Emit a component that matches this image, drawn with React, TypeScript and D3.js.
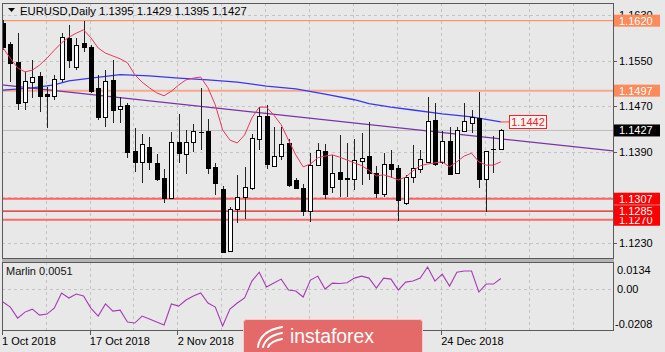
import React from 'react';
import { line, scaleLinear } from 'd3';

// daily candles, 1 Oct 2018 onwards
const opens = [1.1616, 1.1579, 1.1547, 1.1477, 1.1512, 1.1523, 1.1491, 1.1488, 1.1517, 1.159, 1.1539, 1.1581, 1.1574, 1.1502, 1.1451, 1.1516, 1.1465, 1.1472, 1.1391, 1.1372, 1.1398, 1.137, 1.1343, 1.1308, 1.1407, 1.1386, 1.1407, 1.1425, 1.1426, 1.1363, 1.1324, 1.1215, 1.1289, 1.131, 1.1326, 1.1412, 1.1452, 1.1365, 1.1382, 1.1405, 1.134, 1.1326, 1.1285, 1.1366, 1.1391, 1.1328, 1.1354, 1.1343, 1.1342, 1.1373, 1.1382, 1.1352, 1.1315, 1.1368, 1.1361, 1.1299, 1.1345, 1.1359, 1.1372, 1.1445, 1.1372, 1.1408, 1.1352, 1.1426, 1.144, 1.1449, 1.1342, 1.1395, 1.1395];
const highs = [1.1621, 1.1582, 1.1598, 1.153, 1.1551, 1.153, 1.1503, 1.1525, 1.1598, 1.1612, 1.159, 1.1619, 1.1577, 1.1525, 1.1533, 1.1551, 1.1486, 1.1475, 1.1431, 1.1421, 1.1416, 1.1386, 1.1359, 1.1424, 1.1456, 1.1428, 1.1438, 1.1502, 1.1447, 1.137, 1.1329, 1.1292, 1.1349, 1.1363, 1.1421, 1.1468, 1.1472, 1.1433, 1.1433, 1.1412, 1.1343, 1.1333, 1.1387, 1.1405, 1.1403, 1.1384, 1.1419, 1.1405, 1.1412, 1.1423, 1.1442, 1.1365, 1.1387, 1.1393, 1.1366, 1.1349, 1.1401, 1.1393, 1.1486, 1.1475, 1.1426, 1.1433, 1.1433, 1.1475, 1.1463, 1.1495, 1.1391, 1.1417, 1.1429];
const lows = [1.1568, 1.1512, 1.1463, 1.1463, 1.1484, 1.1459, 1.1431, 1.1481, 1.1512, 1.1537, 1.1533, 1.1565, 1.1493, 1.1445, 1.1433, 1.144, 1.144, 1.1379, 1.1354, 1.1335, 1.1357, 1.1338, 1.1299, 1.1306, 1.137, 1.135, 1.1389, 1.1393, 1.135, 1.1313, 1.1212, 1.1213, 1.1264, 1.1271, 1.1322, 1.1393, 1.1359, 1.1363, 1.1375, 1.1328, 1.1324, 1.1277, 1.1266, 1.1364, 1.1306, 1.1317, 1.131, 1.131, 1.1322, 1.1331, 1.134, 1.1308, 1.131, 1.1343, 1.1268, 1.1296, 1.1335, 1.1352, 1.137, 1.1365, 1.1368, 1.1349, 1.135, 1.1424, 1.1423, 1.1326, 1.1284, 1.1352, 1.1395];
const closes = [1.1574, 1.1546, 1.1475, 1.1514, 1.1521, 1.1488, 1.1488, 1.1517, 1.1591, 1.1551, 1.1577, 1.1574, 1.1496, 1.1451, 1.1514, 1.1463, 1.147, 1.1389, 1.1372, 1.1403, 1.1372, 1.1342, 1.1308, 1.1407, 1.1387, 1.1407, 1.1426, 1.1424, 1.1361, 1.1335, 1.1213, 1.1289, 1.131, 1.1328, 1.1414, 1.1452, 1.1368, 1.1382, 1.1403, 1.1331, 1.1326, 1.1285, 1.1366, 1.1393, 1.1315, 1.1352, 1.1342, 1.1342, 1.1375, 1.1379, 1.1352, 1.1317, 1.1368, 1.1359, 1.1305, 1.1345, 1.1361, 1.1377, 1.1444, 1.1368, 1.1408, 1.135, 1.1428, 1.1444, 1.1451, 1.1342, 1.1391, 1.1394, 1.1427];

// fast moving average (red)
const fastMa = [1.1572, 1.1554, 1.1537, 1.153, 1.1533, 1.1542, 1.1554, 1.1568, 1.1581, 1.1591, 1.1598, 1.1604, 1.159, 1.1572, 1.1563, 1.1558, 1.1553, 1.1546, 1.1525, 1.1512, 1.1502, 1.1493, 1.1488, 1.1496, 1.1507, 1.1516, 1.1519, 1.1521, 1.1502, 1.1472, 1.1428, 1.141, 1.1405, 1.1419, 1.1449, 1.1468, 1.1468, 1.1454, 1.1437, 1.141, 1.1384, 1.1363, 1.1368, 1.1379, 1.1382, 1.1384, 1.138, 1.1375, 1.137, 1.1365, 1.1357, 1.1347, 1.1349, 1.1345, 1.134, 1.1345, 1.1356, 1.1365, 1.1368, 1.137, 1.1372, 1.1363, 1.1372, 1.1382, 1.1387, 1.1372, 1.1366, 1.1366, 1.1372];

// slow moving average (blue), read at these bars
const slowIdx = [0, 4, 7, 9, 12, 16, 20, 24, 28, 32, 36, 40, 44, 48, 50, 53, 56, 60, 64, 68];
const slowMa = [1.1498, 1.1502, 1.1507, 1.1514, 1.1519, 1.1525, 1.1523, 1.1519, 1.1516, 1.1512, 1.1505, 1.15, 1.1491, 1.1481, 1.1474, 1.1468, 1.1463, 1.1456, 1.1451, 1.1442];

// trend line (two anchors: bar index, price)
const trendIdx = [0, 83.3];
const trendPrice = [1.1507, 1.1391];

// horizontal levels
const levels = [1.162, 1.1497, 1.1307, 1.127, 1.1285];
const levelColors = ['#ff7f50', '#f7a98e', '#ff6262', '#ff6a6a', '#e61c1c'];
const levelWidths = [1, 2, 2, 2, 1.2];
const levelBoxes = ['#ff8a5c', '#ff8a5c', '#ff0000', '#ff0000', '#ff0000'];

const marlin = [-0.0067, -0.0093, -0.0148, -0.0118, -0.0103, -0.0133, -0.0128, -0.0098, -0.0022, -0.0047, -0.0027, -0.0037, -0.0098, -0.0138, -0.0077, -0.0113, -0.0108, -0.0168, -0.0173, -0.0138, -0.0153, -0.0168, -0.0183, -0.0077, -0.0088, -0.0057, -0.0037, -0.0022, -0.0072, -0.0093, -0.0188, -0.0103, -0.0072, -0.0047, 0.0038, 0.0083, 0.0008, 0.0028, 0.0048, -0.0007, -0.0012, -0.0042, 0.0043, 0.0063, -0.0002, 0.0028, 0.0026, 0.003, 0.0053, 0.0063, 0.0053, 0.0003, 0.0053, 0.0048, -0.0007, 0.0033, 0.0038, 0.0053, 0.0109, 0.0038, 0.0073, 0.0013, 0.0083, 0.0089, 0.0089, -0.0017, 0.0023, 0.0023, 0.0051];

const priceTicks = [1.163, 1.155, 1.147, 1.139, 1.131, 1.123];
// date labels that are not hidden by the watermark
const dateTickIdx = [0, 12, 24, 60];
const dateTickLabels = ['1 Oct 2018', '17 Oct 2018', '2 Nov 2018', '24 Dec 2018'];

const FONT = '"Liberation Sans", Arial, sans-serif';
const BG = '#e8e8e8';
const GRID = '#c4c4c4';
const L = 2, R = 613, T = 3, B = 258, MT = 262, MB = 330;

function App() {
  const x = scaleLinear().domain([0, 68]).range([3, 500.8]);
  const y = scaleLinear().domain([1.123, 1.147]).range([242.5, 106]);
  const ym = scaleLinear().domain([-0.0208, 0.0134]).range([MB, MT]);

  const gridX: number[] = [];
  for (let i = 0; x(i) - 1.3 < R; i += 6) gridX.push(x(i) - 1.3);

  const fastPath = line<number>().x((d, i) => x(i)).y(d => y(d))(fastMa);
  const slowPath = line<number>().x((d, i) => x(slowIdx[i])).y(d => y(d))(slowMa);
  const marlinPath = line<number>().x((d, i) => x(i)).y(d => ym(d))(marlin);

  const last = closes[closes.length - 1];
  const slowEnd = slowMa[slowMa.length - 1];
  const f4 = (v: number) => v.toFixed(4);
  const slope = (y(trendPrice[1]) - y(trendPrice[0])) / (x(trendIdx[1]) - x(trendIdx[0]));

  return (
    <div style={{ position: 'fixed', left: 0, top: 0 }}>
      <svg width={665} height={352} style={{ display: 'block', fontFamily: FONT }}>
        <defs>
          <clipPath id="main">
            <rect x={L} y={T} width={R - L} height={B - T} />
          </clipPath>
          <clipPath id="sub">
            <rect x={L} y={MT} width={R - L} height={MB - MT} />
          </clipPath>
        </defs>
        <rect width={665} height={352} fill={BG} />

        {/* grid */}
        <g stroke={GRID} strokeDasharray="3,3" shapeRendering="crispEdges">
          {priceTicks.map(p => (
            <line key={p} x1={L} x2={R} y1={Math.round(y(p)) + 0.5} y2={Math.round(y(p)) + 0.5} />
          ))}
          {gridX.map(gx => (
            <line key={gx} x1={Math.round(gx) + 0.5} x2={Math.round(gx) + 0.5} y1={T} y2={B} />
          ))}
          {gridX.map(gx => (
            <line key={'m' + gx} x1={Math.round(gx) + 0.5} x2={Math.round(gx) + 0.5} y1={MT} y2={MB} />
          ))}
          <line x1={L} x2={R} y1={Math.round(ym(0)) + 0.5} y2={Math.round(ym(0)) + 0.5} />
        </g>

        <g clipPath="url(#main)">
          {/* current price line */}
          <line x1={L} x2={R} y1={y(last)} y2={y(last)} stroke="#bdbdbd" strokeWidth={1} />
          {levels.map((p, i) => (
            <line key={p} x1={L} x2={R} y1={y(p)} y2={y(p)} stroke={levelColors[i]} strokeWidth={levelWidths[i]} />
          ))}
          <path d={slowPath || ''} fill="none" stroke="#3838f0" strokeWidth={1.3} />
          <line
            x1={x(trendIdx[0]) - 10}
            y1={y(trendPrice[0]) - 10 * slope}
            x2={x(trendIdx[1]) + 10}
            y2={y(trendPrice[1]) + 10 * slope}
            stroke="#7a32a6"
            strokeWidth={1.3}
          />
          {/* candles */}
          {opens.map((o, i) => {
            const c = closes[i];
            const cx = Math.round(x(i)) + 0.5;
            const top = Math.round(y(Math.max(o, c)));
            const bot = Math.round(y(Math.min(o, c)));
            const bull = c > o;
            return (
              <g key={i} shapeRendering="crispEdges">
                <line x1={cx} x2={cx} y1={Math.round(y(highs[i]))} y2={Math.round(y(lows[i]))} stroke="#222" />
                {bot - top < 1 ? (
                  <line x1={cx - 2.5} x2={cx + 2.5} y1={top + 0.5} y2={top + 0.5} stroke="#000" />
                ) : (
                  <rect
                    x={cx - 2}
                    y={top + 0.5}
                    width={4}
                    height={bot - top}
                    fill={bull ? '#fff' : '#000'}
                    stroke="#000"
                  />
                )}
              </g>
            );
          })}
          <path d={fastPath || ''} fill="none" stroke="#e8385a" strokeWidth={1} />
          {/* MA value tag */}
          <line x1={x(slowIdx[slowIdx.length - 1])} x2={509} y1={y(slowEnd)} y2={y(slowEnd)} stroke="#f07a7a" strokeWidth={1.5} />
        </g>
        <rect x={509.5} y={115.5} width={37} height={13} fill="#f4f4f4" stroke="#ff2020" />
        <text x={528} y={126} fontSize={11} fill="#ff2020" textAnchor="middle">{f4(slowEnd)}</text>

        {/* marlin */}
        <g clipPath="url(#sub)">
          <path d={marlinPath || ''} fill="none" stroke="#a63cb4" strokeWidth={1.1} />
        </g>
        <text x={6} y={275} fontSize={11} fill="#111">Marlin {f4(marlin[marlin.length - 1])}</text>

        {/* frames */}
        <g fill="none" stroke="#5a5a5a" shapeRendering="crispEdges">
          <rect x={L + 0.5} y={T + 0.5} width={R - L} height={B - T} />
          <rect x={L + 0.5} y={MT + 0.5} width={R - L} height={MB - MT} />
        </g>
        <rect x={L} y={B + 1} width={R - L + 1} height={MT - B - 1} fill="#b4b4b4" />

        {/* title */}
        <path d="M8,8 L15,8 L11.5,12 Z" fill="#000" />
        <text x={20} y={15} fontSize={11.3} fill="#000">
          EURUSD,Daily  {f4(opens[68])} {f4(highs[68])} {f4(lows[68])} {f4(closes[68])}
        </text>

        {/* price axis */}
        <g fontSize={11} fill="#000">
          {priceTicks.map(p => (
            <g key={p}>
              <line x1={R} x2={R + 4} y1={Math.round(y(p)) + 0.5} y2={Math.round(y(p)) + 0.5} stroke="#5a5a5a" />
              <text x={619} y={y(p) + 4}>{f4(p)}</text>
            </g>
          ))}
        </g>
        {levels.map((p, i) => (
          <g key={'b' + p}>
            <rect x={614} y={y(p) - 6} width={46} height={12} fill={levelBoxes[i]} />
            <text x={619} y={y(p) + 4} fontSize={11} fill="#fff">{f4(p)}</text>
          </g>
        ))}
        <rect x={614} y={y(last) - 6} width={46} height={12} fill="#000" />
        <text x={619} y={y(last) + 4} fontSize={11} fill="#fff">{f4(last)}</text>

        {/* marlin axis */}
        <g fontSize={11} fill="#000">
          <text x={617} y={ym(0.0134) + 12}>0.0134</text>
          <text x={617} y={ym(0) + 4}>0.00</text>
          <text x={615} y={ym(-0.0208) - 2}>-0.0208</text>
        </g>

        {/* date axis */}
        <g fontSize={11} fill="#000">
          {dateTickIdx.map((di, k) => (
            <g key={di}>
              <line x1={Math.round(x(di) - 1.3) + 0.5} x2={Math.round(x(di) - 1.3) + 0.5} y1={MB} y2={MB + 5} stroke="#5a5a5a" />
              <text x={x(di) - 1} y={345}>{dateTickLabels[k]}</text>
            </g>
          ))}
        </g>

        {/* watermark */}
        <g>
          <rect x={243.5} y={319.5} width={179} height={40} rx={3} fill="#e46a6a" stroke="#f6caca" />
          <g fill="none" stroke="#fff" strokeWidth={2} strokeLinecap="round">
            <path d="M258,347 Q260,331 282,327" />
            <path d="M263,347 Q266,336 282,333" />
            <path d="M268,347 Q271,341 282,339" />
          </g>
          <text x={290} y={343} fontSize={20} fill="#fff" textLength={84} lengthAdjust="spacingAndGlyphs">instaforex</text>
        </g>
      </svg>
    </div>
  );
}

export default App;
